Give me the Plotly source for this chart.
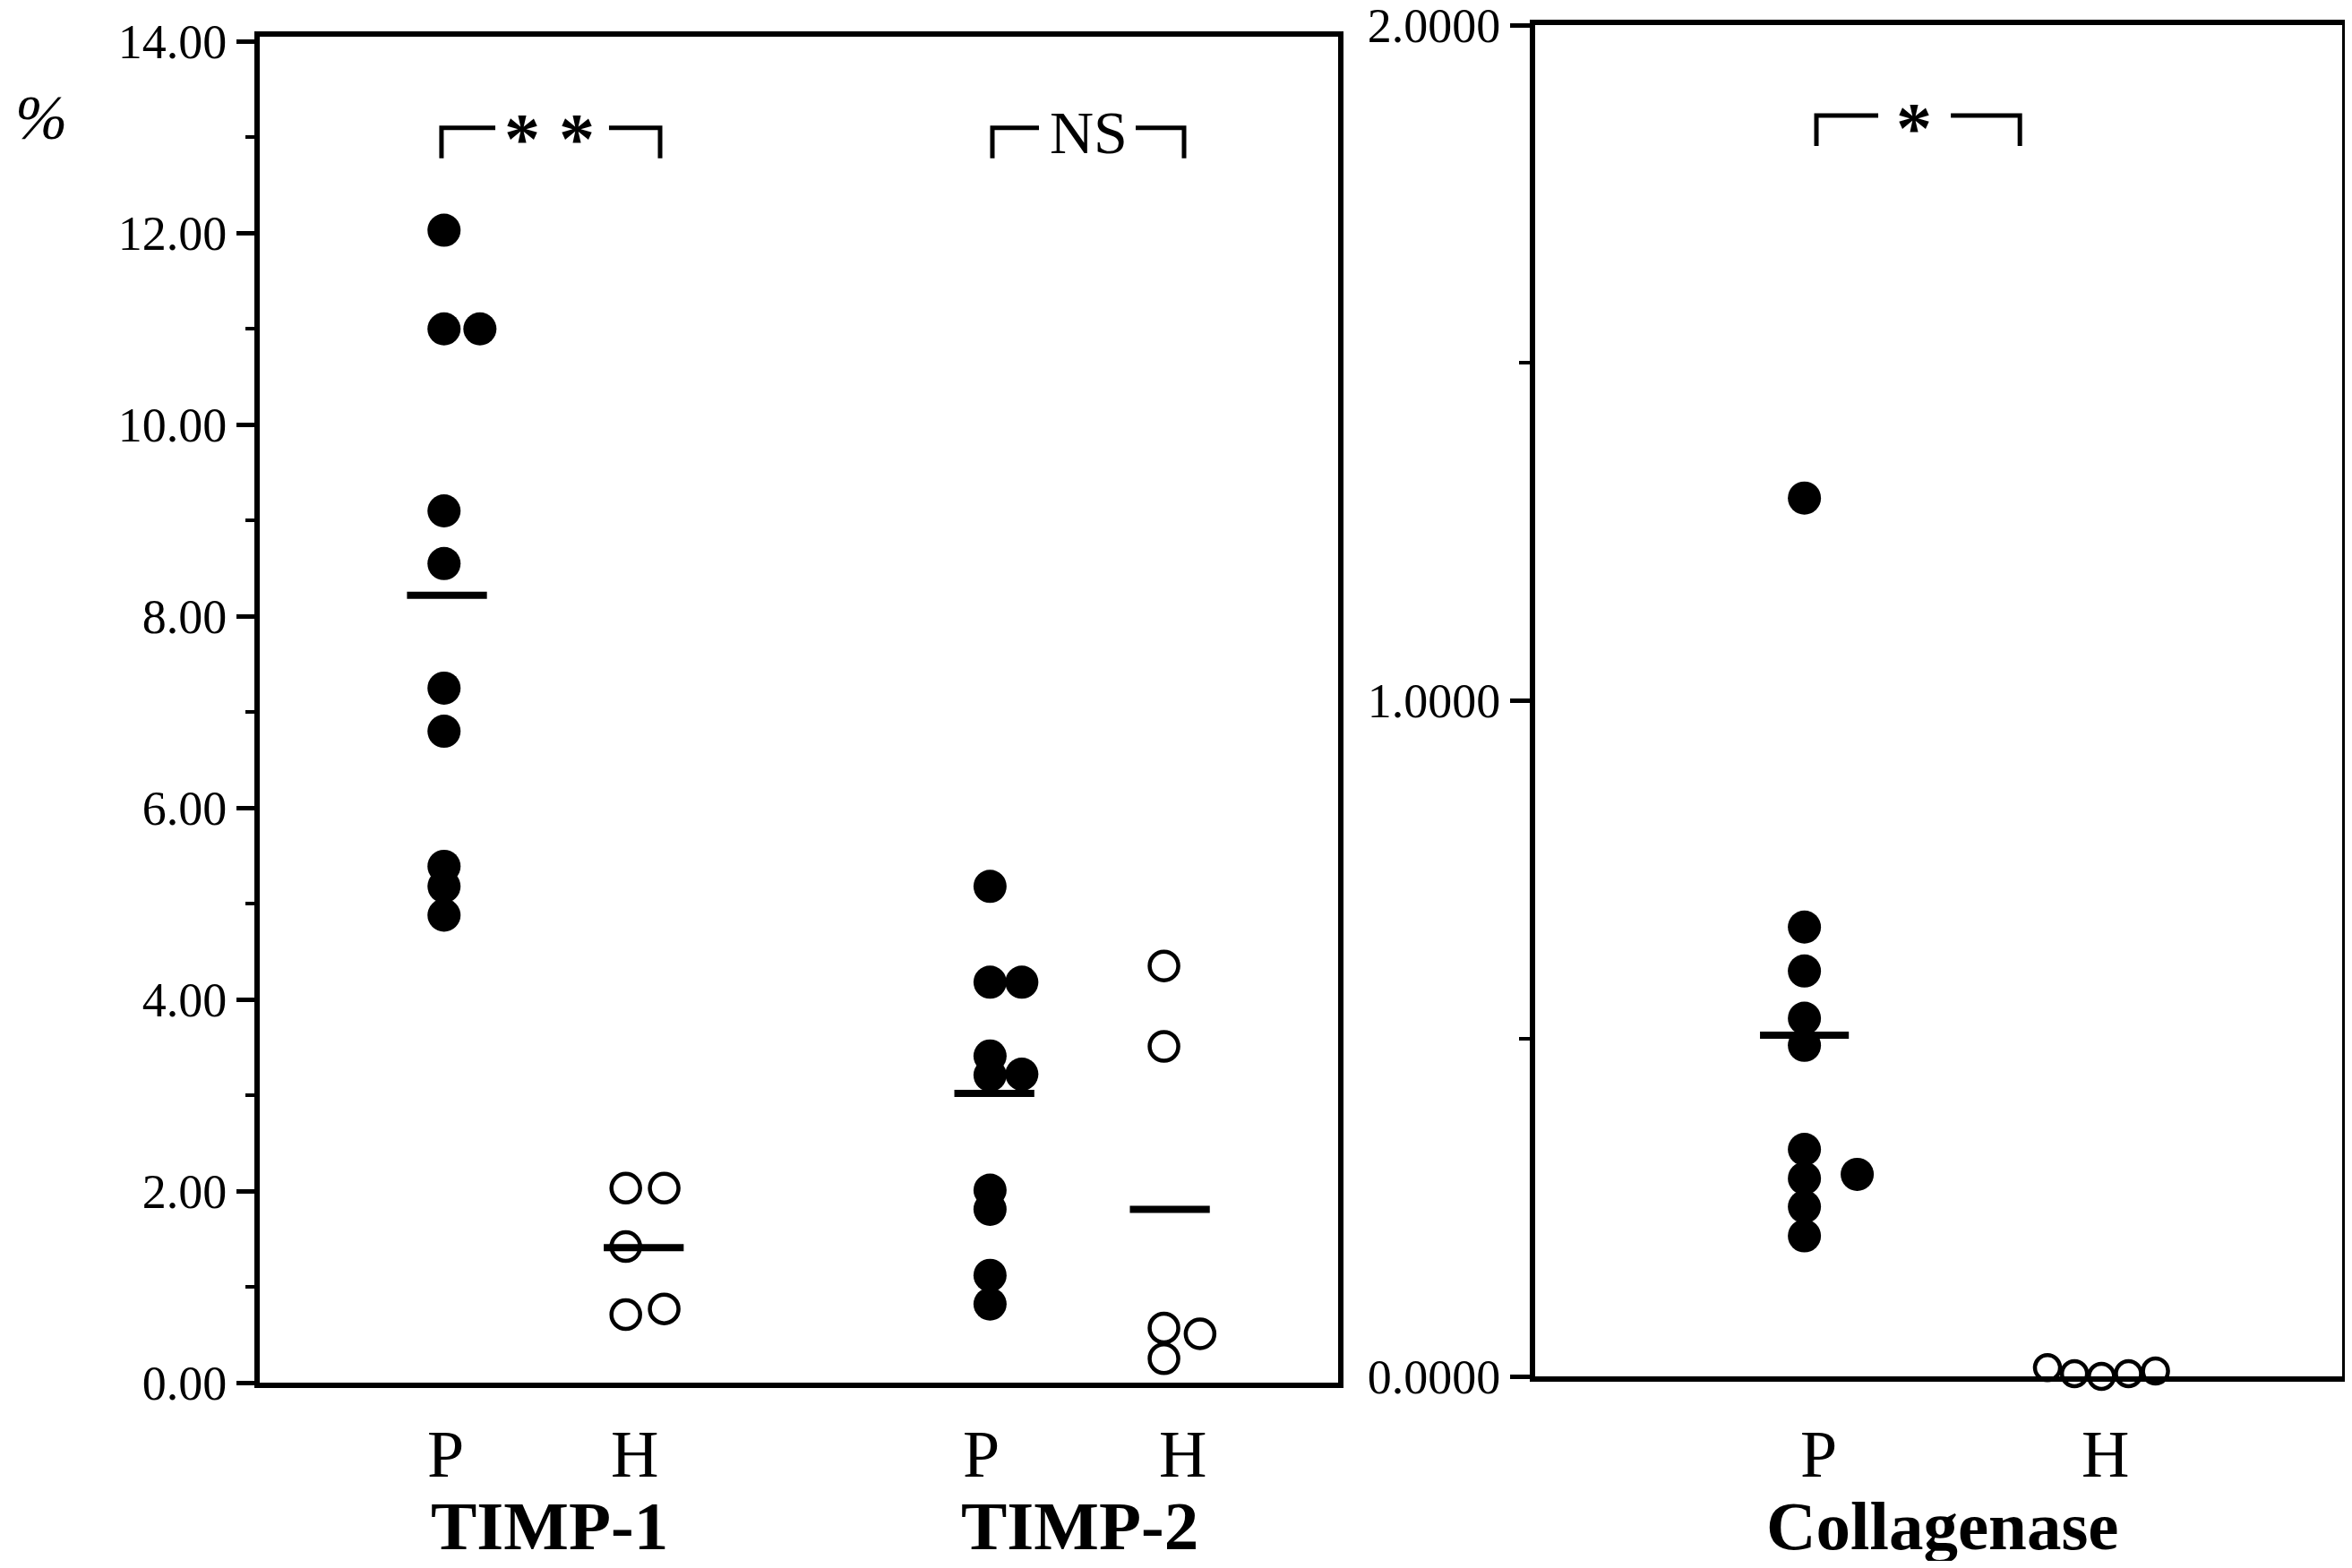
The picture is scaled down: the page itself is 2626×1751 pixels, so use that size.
import plotly.graph_objects as go

# ---------------- data ----------------
timp1_P = [12.03, 11.0, 11.0, 9.1, 8.55, 7.25, 6.8, 5.39, 5.18, 4.88]
timp1_P_col = [0, 0, 1, 0, 0, 0, 0, 0, 0, 0]
timp1_H = [2.03, 2.03, 1.42, 0.71, 0.77]
timp1_H_col = [0, 1, 0, 0, 1]
timp2_P = [5.18, 4.18, 4.18, 3.41, 3.21, 3.22, 2.01, 1.81, 1.12, 0.82]
timp2_P_col = [0, 0, 1, 0, 0, 1, 0, 0, 0, 0]
timp2_H = [4.35, 3.51, 0.57, 0.51, 0.25]
timp2_H_col = [0, 0, 0, 1, 0]
coll_P = [1.30, 0.665, 0.60, 0.53, 0.49, 0.336, 0.293, 0.299, 0.251, 0.208]
coll_P_col = [0, 0, 0, 0, 0, 0, 0, 1, 0, 0]
coll_H = [0.013, 0.004, 0.0, 0.004, 0.008]
coll_H_col = [-2, -1, 0, 1, 2]

means_left = [8.22, 1.41, 3.02, 1.81]      # TIMP-1 P, TIMP-1 H, TIMP-2 P, TIMP-2 H
means_right = [0.505]                       # Collagenase P

group_labels = ["TIMP-1", "TIMP-2", "Collagenase"]
sub_labels = ["P", "H"]
signif = ["*", "*", "NS", "*"]

left_tickvals = [0, 2, 4, 6, 8, 10, 12, 14]
left_ticktext = ["0.00", "2.00", "4.00", "6.00", "8.00", "10.00", "12.00", "14.00"]
right_tickvals = [0, 1, 2]
right_ticktext = ["0.0000", "1.0000", "2.0000"]
y_unit_label = "%"

# ---------------- layout constants ----------------
FONT = "Liberation Serif"
PAGE_MARGIN = 8                     # default body margin of the html page
W, H = 2626 - 2 * PAGE_MARGIN, 1751 - 2 * PAGE_MARGIN
col_P1 = (1.008, 0.184)
col_H1 = (1.940, 0.197)
col_P2 = (3.808, 0.163)
col_H2 = (4.700, 0.185)
col_CP = (1.000, 0.176)
col_CH = (1.990, 0.090)
mean_x_left = [1.023, 2.032, 3.830, 4.730]
mean_x_right = [1.000]
hw_left, hw_right = 0.205, 0.148


def xs(col, idx):
    return [col[0] + col[1] * i for i in idx]


def py(px):
    return 1 - (px - PAGE_MARGIN) / H


def pxx(px):
    return (px - PAGE_MARGIN) / W


fig = go.Figure()

filled = dict(symbol="circle", size=37, color="black", line=dict(width=0))
opened = dict(symbol="circle-open", size=32, color="black", line=dict(width=4.5))
opened_small = dict(symbol="circle-open", size=28, color="black", line=dict(width=4.5))

fig.add_trace(go.Scatter(x=xs(col_P1, timp1_P_col), y=timp1_P, mode="markers",
                         marker=filled, xaxis="x", yaxis="y"))
fig.add_trace(go.Scatter(x=xs(col_H1, timp1_H_col), y=timp1_H, mode="markers",
                         marker=opened, xaxis="x", yaxis="y"))
fig.add_trace(go.Scatter(x=xs(col_P2, timp2_P_col), y=timp2_P, mode="markers",
                         marker=filled, xaxis="x", yaxis="y"))
fig.add_trace(go.Scatter(x=xs(col_H2, timp2_H_col), y=timp2_H, mode="markers",
                         marker=opened, xaxis="x", yaxis="y"))
fig.add_trace(go.Scatter(x=xs(col_CP, coll_P_col), y=coll_P, mode="markers",
                         marker=filled, xaxis="x2", yaxis="y2"))
fig.add_trace(go.Scatter(x=xs(col_CH, coll_H_col), y=coll_H, mode="markers",
                         marker=opened_small, xaxis="x2", yaxis="y2", cliponaxis=False))

# mean lines
mx, my = [], []
for c, m in zip(mean_x_left, means_left):
    mx += [c - hw_left, c + hw_left, None]
    my += [m, m, None]
fig.add_trace(go.Scatter(x=mx, y=my, mode="lines", line=dict(color="black", width=8),
                         xaxis="x", yaxis="y"))
mx, my = [], []
for c, m in zip(mean_x_right, means_right):
    mx += [c - hw_right, c + hw_right, None]
    my += [m, m, None]
fig.add_trace(go.Scatter(x=mx, y=my, mode="lines", line=dict(color="black", width=8),
                         xaxis="x2", yaxis="y2"))

# significance brackets: (x0, gapL, gapR, x1, ytop, ybot, axes)
brackets = [
    (0.995, 1.271, 1.854, 2.116, 13.10, 12.78, "x", "y"),
    (3.820, 4.059, 4.555, 4.803, 13.10, 12.78, "x", "y"),
    (1.040, 1.246, 1.488, 1.718, 1.866, 1.821, "x2", "y2"),
]
for x0, gl, gr, x1, yt, yb, xa, ya in brackets:
    fig.add_trace(go.Scatter(x=[x0, x0, gl, None, gr, x1, x1],
                             y=[yb, yt, yt, None, yt, yt, yb],
                             mode="lines", line=dict(color="black", width=5),
                             xaxis=xa, yaxis=ya))

annos = []
sig_pos = [(1.41, 12.98, "x", "y", 80), (1.69, 12.98, "x", "y", 80),
           (4.316, 13.05, "x", "y", 68), (1.366, 1.848, "x2", "y2", 80)]
for (x, y, xa, ya, fs), t in zip(sig_pos, signif):
    txt = t if t != "*" else "<b>*</b>"
    annos.append(dict(x=x, y=y, xref=xa, yref=ya, text=txt, showarrow=False,
                      font=dict(family=FONT, size=fs, color="black"),
                      xanchor="center", yanchor="middle"))

sub_pos = [(1.017, "x"), (1.983, "x"), (3.764, "x"), (4.797, "x"), (1.048, "x2"), (2.003, "x2")]
for i, (x, xa) in enumerate(sub_pos):
    annos.append(dict(x=x, y=py(1624), xref=xa, yref="paper", text=sub_labels[i % 2],
                      showarrow=False, font=dict(family=FONT, size=74, color="black"),
                      xanchor="center", yanchor="middle"))
grp_pos = [(1.55, "x"), (4.27, "x"), (1.46, "x2")]
for (x, xa), t in zip(grp_pos, group_labels):
    annos.append(dict(x=x, y=py(1704), xref=xa, yref="paper", text="<b>%s</b>" % t,
                      showarrow=False, font=dict(family=FONT, size=77, color="black"),
                      xanchor="center", yanchor="middle"))
annos.append(dict(x=pxx(46), y=py(131), xref="paper", yref="paper",
                  text="<i>%s</i>" % y_unit_label, showarrow=False,
                  font=dict(family=FONT, size=70, color="black"),
                  xanchor="center", yanchor="middle"))

axis_common = dict(showline=True, linecolor="black", linewidth=6, mirror=True,
                   showgrid=False, zeroline=False, automargin=False)

fig.update_layout(
    width=W, height=H, autosize=False,
    margin=dict(l=0, r=0, t=0, b=0, pad=0),
    paper_bgcolor="white", plot_bgcolor="white",
    showlegend=False,
    annotations=annos,
    xaxis=dict(domain=[pxx(290), pxx(1494)], range=[0.0629, 5.593],
               showticklabels=False, ticks="", **axis_common),
    yaxis=dict(domain=[py(1544), py(41)], range=[0, 14.05],
               tickmode="array", tickvals=left_tickvals, ticktext=left_ticktext,
               ticks="outside", ticklen=20, tickwidth=5, tickcolor="black",
               ticklabeloverflow="allow",
               tickfont=dict(family=FONT, size=54, color="black"),
               minor=dict(tickmode="array", tickvals=[1, 3, 5, 7, 9, 11, 13],
                          ticks="outside", ticklen=10, tickwidth=4, tickcolor="black"),
               **axis_common),
    xaxis2=dict(domain=[pxx(1714), pxx(2615)], range=[0.1027, 2.792],
                showticklabels=False, ticks="", anchor="y2", **axis_common),
    yaxis2=dict(domain=[py(1537), py(28)], range=[0, 2], anchor="x2",
                tickmode="array", tickvals=right_tickvals, ticktext=right_ticktext,
                ticks="outside", ticklen=22, tickwidth=5, tickcolor="black",
                ticklabeloverflow="allow",
                tickfont=dict(family=FONT, size=54, color="black"),
                minor=dict(tickmode="array", tickvals=[0.5, 1.5],
                           ticks="outside", ticklen=12, tickwidth=4, tickcolor="black"),
                **axis_common),
)

fig.write_html("out.html")
